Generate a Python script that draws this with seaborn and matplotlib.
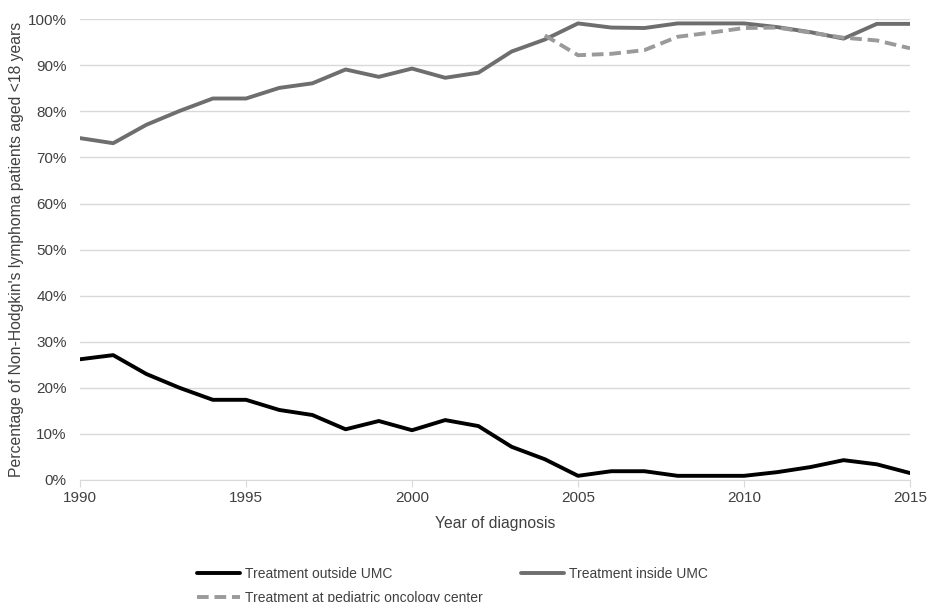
import seaborn as sns
import matplotlib.pyplot as plt
import numpy as np
import pandas as pd

years = list(range(1990, 2016))
outside_umc = [26.2, 27.1, 23.0, 20.0, 17.4, 17.4, 15.2, 14.1, 11.0, 12.8, 10.8, 13.0, 11.7,
               7.2, 4.5, 0.9, 1.9, 1.9, 0.9, 0.9, 0.9, 1.7, 2.8, 4.3, 3.4, 1.5]
inside_umc = [74.2, 73.1, 77.1, 80.1, 82.8, 82.8, 85.1, 86.1, 89.1, 87.5, 89.3, 87.3, 88.4,
              93.0, 95.6, 99.1, 98.2, 98.1, 99.1, 99.1, 99.1, 98.3, 97.2, 95.8, 99.0, 99.0]
ped_years = list(range(2004, 2016))
ped_center = [96.5, 92.2, 92.5, 93.3, 96.2, 97.1, 98.1, 98.2, 97.1, 96.0, 95.4, 93.7]

sns.set_style("white")
plt.rcParams['font.family'] = ['Liberation Sans', 'DejaVu Sans']

fig = plt.figure(figsize=(9.27, 6.02), dpi=100)
ax = fig.add_axes([0.0863, 0.2027, 0.8954, 0.7653])

sns.lineplot(x=years, y=outside_umc, ax=ax, color='black', linewidth=2.8,
             label='Treatment outside UMC')
sns.lineplot(x=years, y=inside_umc, ax=ax, color='#6e6e6e', linewidth=2.8,
             label='Treatment inside UMC')
sns.lineplot(x=ped_years, y=ped_center, ax=ax, color='#9a9a9a', linewidth=2.8,
             linestyle=(0, (3, 1.5)), label='Treatment at pediatric oncology center')

ax.set_xlim(1990, 2015)
ax.set_ylim(0, 100)
ax.set_yticks(np.arange(0, 101, 10))
ax.set_yticklabels([f'{v}%' for v in range(0, 101, 10)])
ax.set_xticks(range(1990, 2016, 5))
ax.grid(axis='y', color='#d9d9d9', linewidth=1)
ax.set_axisbelow(True)
for s in ['top', 'right', 'left']:
    ax.spines[s].set_visible(False)
ax.spines['bottom'].set_color('#d9d9d9')
ax.tick_params(axis='x', bottom=True, length=5, color='#d9d9d9', labelsize=11, labelcolor='#404040', pad=3)
ax.tick_params(axis='y', left=False, labelsize=11, labelcolor='#404040', pad=6)

ax.set_xlabel('Year of diagnosis', fontsize=11.3, color='#404040', labelpad=8)
ax.set_ylabel("Percentage of Non-Hodgkin's lymphoma patients aged <18 years", fontsize=11.3,
              color='#404040', labelpad=3)

handles, labels = ax.get_legend_handles_labels()
order = [0, 2, 1]
ax.legend([handles[i] for i in order], [labels[i] for i in order],
          loc='upper left', bbox_to_anchor=(0.134, -0.176), ncol=2, frameon=False,
          fontsize=10, handlelength=3.1, handletextpad=0.4, columnspacing=2.7,
          labelspacing=0.75, borderaxespad=0)
for t in ax.get_legend().get_texts():
    t.set_color('#404040')

fig.savefig('out.png', dpi=100)
